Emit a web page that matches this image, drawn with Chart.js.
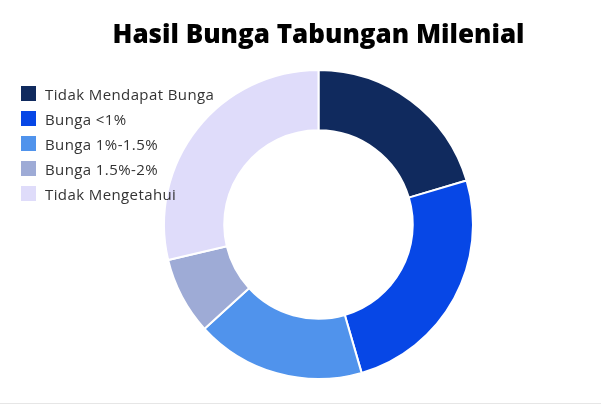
<!DOCTYPE html>
<html>
<head>
<meta charset="utf-8">
<script src="https://cdn.jsdelivr.net/npm/chart.js@4/dist/chart.umd.min.js"></script>
<style>
  html, body { margin: 0; padding: 0; background: #fff; }
  #wrap { position: relative; width: 601px; height: 404px; overflow: hidden; }
  #c { position: absolute; left: 0; top: 0; }
  #title { position: absolute; left: 36px; width: 565px; top: 15px; text-align: center;
           font-family: "Open Sans", sans-serif; font-weight: 800; font-size: 26px; color: #000; }
  #legend { position: absolute; left: 21px; top: 81px; font-family: "Open Sans", sans-serif; font-size: 15px; letter-spacing: 0.4px; color: #333; }
  .item { display: flex; align-items: center; height: 25px; }
  .box { width: 15px; height: 15px; margin-right: 9px; }
  #line { position: absolute; left: 0; top: 403px; width: 601px; height: 1px; background: #e6e6e6; }
</style>
</head>
<body>
<div id="wrap">
  <canvas id="c" width="601" height="404"></canvas>
  <div id="title"></div>
  <div id="legend"></div>
  <div id="line"></div>
</div>
<script>
const chartTitle = "Hasil Bunga Tabungan Milenial";
const categories = ["Tidak Mendapat Bunga", "Bunga <1%", "Bunga 1%-1.5%", "Bunga 1.5%-2%", "Tidak Mengetahui"];
const values = [20.4, 25.1, 17.7, 8.1, 28.7];
const colors = ["#102a5e", "#0747e6", "#5093ec", "#9eabd6", "#dfdcfa"];

document.getElementById('title').textContent = chartTitle;
const lg = document.getElementById('legend');
categories.forEach((c, i) => {
  const it = document.createElement('div'); it.className = 'item';
  const b = document.createElement('div'); b.className = 'box'; b.style.background = colors[i];
  const t = document.createElement('span'); t.textContent = c;
  it.appendChild(b); it.appendChild(t); lg.appendChild(it);
});

new Chart(document.getElementById('c'), {
  type: 'doughnut',
  data: { labels: categories, datasets: [{ data: values, backgroundColor: colors, borderColor: '#fff', borderWidth: 2 }] },
  options: {
    responsive: false, animation: false, cutout: '61%',
    layout: { padding: { top: 69, bottom: 24, left: 36, right: 0 } },
    plugins: { legend: { display: false }, title: { display: false }, tooltip: { enabled: false } }
  }
});
</script>
</body>
</html>
